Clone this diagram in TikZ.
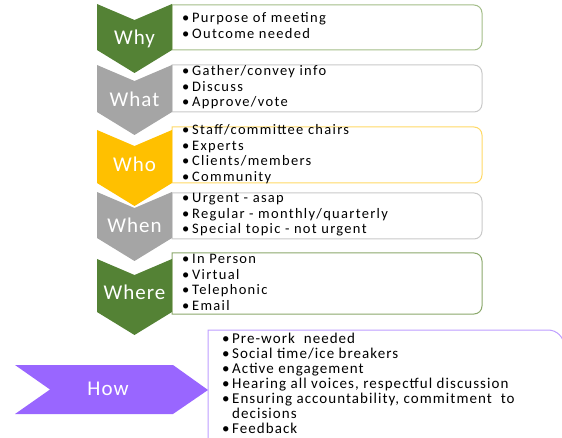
\documentclass[tikz,border=0pt]{standalone}
\usepackage{fontspec}
\setmainfont{Carlito}
\newfontfamily\itemfont{Carlito}[LetterSpace=9]
\newfontfamily\howfont{Carlito}[LetterSpace=7]
\newfontfamily\labelfont{Carlito}[LetterSpace=5]
\usetikzlibrary{positioning}

\definecolor{leafgreen}{HTML}{548235}
\definecolor{stonegray}{HTML}{A5A5A5}
\definecolor{sungold}{HTML}{FFC000}
\definecolor{lilac}{HTML}{9966FF}
\definecolor{greenline}{HTML}{A3BD88}
\definecolor{darkgreenline}{HTML}{8BA86B}
\definecolor{grayline}{HTML}{C9C9C9}
\definecolor{goldline}{HTML}{FFD966}
\definecolor{lilacline}{HTML}{BE9EFF}

\tikzset{
	x=1pt, y=1pt, % one unit is one pixel of the slide
	chevlabel/.style={anchor=base, text=white, inner sep=0pt, font=\labelfont\fontsize{21}{24}\selectfont}, % word on a chevron
	items/.style={anchor=base west, inner sep=0pt, font=\itemfont\fontsize{14.5}{15.5}\selectfont}, % bullet list in a box
	howitems/.style={anchor=base west, inner sep=0pt, font=\howfont\fontsize{15}{15}\selectfont}, % bullet list of the last box
	boxline/.style={line width=1pt, fill=white}, % border of the list boxes
}

% one bullet line
\newcommand{\itm}{\makebox[10pt][l]{\textbullet}}
% chevron pointing down: top, bottom of the sides, colour
\newcommand{\chevdown}[3]{%
	\fill[#3] (97,-#1) -- (134.5,-#1-16) -- (172,-#1) -- (172,-#2) -- (134.5,-#2-23) -- (97,-#2) -- cycle;}
% box with round corners on the right: top, bottom, colour of the border
\newcommand{\listbox}[3]{%
	\draw[boxline, draw=#3] (172,-#1) -- (474,-#1) to[out=0,in=90] (482,-#1-8) -- (482,-#2+8) to[out=-90,in=0] (474,-#2) -- (172,-#2) -- cycle;}

\begin{document}
\begin{tikzpicture}
	\useasboundingbox (0,0) rectangle (562,-438);
	\clip (0,0) rectangle (562,-438);

	\listbox{5}{50}{greenline}
	\listbox{65}{112}{grayline}
	\listbox{127}{183}{goldline}
	\listbox{193}{239}{grayline}
	\listbox{253}{314}{darkgreenline}
	\draw[boxline, draw=lilacline] (208,-330) -- (548,-330) to[out=0,in=90] (564,-346) -- (564,-460) -- (208,-460) -- cycle;

	\chevdown{4}{50}{leafgreen}
	\chevdown{65}{112}{stonegray}
	\chevdown{130}{183}{sungold}
	\chevdown{192}{238}{stonegray}
	\chevdown{259}{312}{leafgreen}
	\fill[lilac] (15,-365) -- (173,-365) -- (208,-390) -- (173,-414) -- (15,-414) -- (50,-389.5) -- cycle;

	\node[chevlabel] (why) at (134.5,-45) {Why};
	\node[chevlabel] (what) at (134.5,-107) {What};
	\node[chevlabel] (who) at (134.5,-172) {Who};
	\node[chevlabel] (when) at (134.5,-233) {When};
	\node[chevlabel] (where) at (134.5,-300) {Where};
	\node[chevlabel] (how) at (108,-395) {How};

	\node[items] (whylist) at (182,-23) {\begin{tabular}[t]{@{}l@{}}
		\itm Purpose of meeting\\ \itm Outcome needed\end{tabular}};
	\node[items] (whatlist) at (182,-76) {\begin{tabular}[t]{@{}l@{}}
		\itm Gather/convey info\\ \itm Discuss\\ \itm Approve/vote\end{tabular}};
	\node[items] (wholist) at (182,-135) {\begin{tabular}[t]{@{}l@{}}
		\itm Staff/committee chairs\\ \itm Experts\\ \itm Clients/members\\ \itm Community\end{tabular}};
	\node[items] (whenlist) at (182,-203) {\begin{tabular}[t]{@{}l@{}}
		\itm Urgent - asap\\ \itm Regular - monthly/quarterly\\ \itm Special topic - not urgent\end{tabular}};
	\node[items] (wherelist) at (182,-264) {\begin{tabular}[t]{@{}l@{}}
		\itm In Person\\ \itm Virtual\\ \itm Telephonic\\ \itm Email\end{tabular}};
	\node[howitems] (howlist) at (222,-343) {\begin{tabular}[t]{@{}l@{}}
		\itm Pre-work\ \ needed\\ \itm Social time/ice breakers\\ \itm Active engagement\\
		\itm Hearing all voices, respectful discussion\\ \itm Ensuring accountability, commitment\ \ to\\
		\hspace*{10pt}decisions\\ \itm Feedback\end{tabular}};
\end{tikzpicture}
\end{document}
